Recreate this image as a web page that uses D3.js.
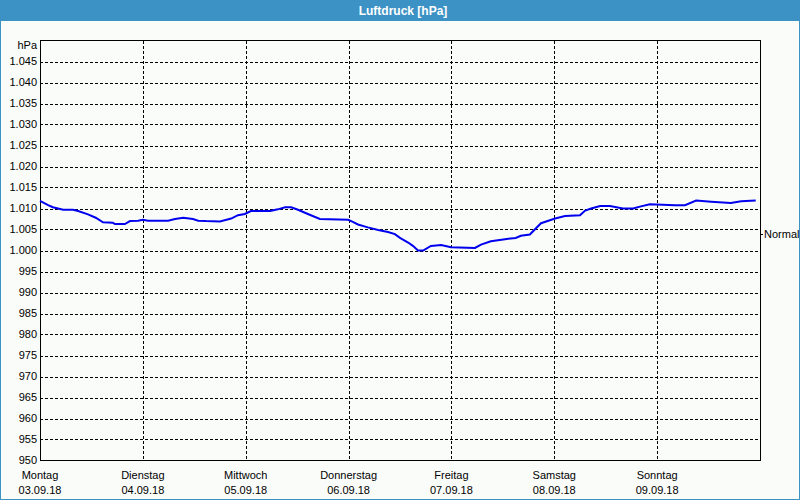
<!DOCTYPE html>
<html><head><meta charset="utf-8">
<script src="https://cdn.jsdelivr.net/npm/d3@7"></script>
<style>
html,body{margin:0;padding:0;background:#fff;}
svg{display:block;}
</style></head>
<body>
<script>
const title = "Luftdruck [hPa]";
const dayNames = ["Montag","Dienstag","Mittwoch","Donnerstag","Freitag","Samstag","Sonntag"];
const dayDates = ["03.09.18","04.09.18","05.09.18","06.09.18","07.09.18","08.09.18","09.09.18"];
const yTicks = [950,955,960,965,970,975,980,985,990,995,1000,1005,1010,1015,1020,1025,1030,1035,1040,1045];
const normalValue = 1004.0;
// hour since Monday 00:00 and pressure reading (hPa)
const hours = [0,1.9,3,5.4,7.7,8.9,11.2,13,14.7,17,17.5,19.8,21,22.9,24,25.2,29.9,31.5,33.4,35.7,36.9,38.7,42,44.6,46.2,47.8,49.2,53.7,55.5,57.2,58.6,60.2,62.5,65.3,71.9,73,74.2,76.5,78.9,81.2,82.8,84,85.9,87,88.2,89.4,91.2,93.6,95.9,101.5,102.9,105.2,108.5,111,112.2,114.3,116.9,120.2,122.5,126,127.2,128.6,130.7,133,136,138.4,140.2,142.3,148.2,150.5,153.1,156.6,161.2,163.6,167];
const pressure = [1011.8,1010.8,1010.3,1009.7,1009.7,1009.4,1008.6,1007.8,1006.7,1006.6,1006.3,1006.3,1007.0,1007.1,1007.3,1007.1,1007.1,1007.5,1007.8,1007.5,1007.1,1007.0,1006.9,1007.6,1008.4,1008.7,1009.4,1009.4,1009.8,1010.3,1010.3,1009.7,1008.7,1007.5,1007.3,1006.8,1006.2,1005.5,1004.9,1004.4,1003.9,1003.0,1001.9,1001.1,1000.0,1000.0,1001.1,1001.3,1000.8,1000.6,1001.4,1002.2,1002.7,1003.0,1003.5,1003.8,1006.5,1007.6,1008.2,1008.4,1009.5,1010.0,1010.6,1010.6,1010.0,1010.0,1010.5,1011.0,1010.8,1010.8,1011.9,1011.6,1011.3,1011.7,1011.9];

const W = 800, H = 500;
const L = 40, R = 760, T = 40.5, B = 460.5;
const svg = d3.select("body").append("svg").attr("width", W).attr("height", H)
  .style("font-family", "'Liberation Sans', Arial, sans-serif");

svg.append("rect").attr("x",0).attr("y",0).attr("width",W).attr("height",H).attr("fill","#3c92c4");
svg.append("rect").attr("x",1).attr("y",21).attr("width",W-2).attr("height",H-22).attr("fill","#fafcfa");
svg.append("text").attr("x",403).attr("y",15).attr("text-anchor","middle")
  .attr("fill","#fff").attr("font-weight","bold").attr("font-size","12px").text(title);

const x = d3.scaleLinear().domain([0, 168]).range([L, R]);
const y = d3.scaleLinear().domain([950, 1050]).range([B, T]);

// horizontal grid
svg.append("g").selectAll("line").data(yTicks.filter(v => v > 950)).join("line")
  .attr("x1", L).attr("x2", R)
  .attr("y1", d => Math.round(y(d)) + 0.5).attr("y2", d => Math.round(y(d)) + 0.5)
  .attr("stroke","#000").attr("stroke-dasharray","3,2").attr("shape-rendering","crispEdges");
// vertical grid
const dayIdx = d3.range(dayNames.length);
svg.append("g").selectAll("line").data(dayIdx.filter(i => i > 0)).join("line")
  .attr("x1", d => Math.round(x(d*24)) + 0.5).attr("x2", d => Math.round(x(d*24)) + 0.5)
  .attr("y1", T).attr("y2", B)
  .attr("stroke","#000").attr("stroke-dasharray","3,2").attr("shape-rendering","crispEdges");

// frame
svg.append("rect").attr("x", L+0.5).attr("y", T).attr("width", R-L).attr("height", B-T)
  .attr("fill","none").attr("stroke","#000").attr("shape-rendering","crispEdges");

// y labels
svg.append("g").selectAll("text").data(yTicks).join("text")
  .attr("x", 37).attr("y", d => y(d)).attr("dy","0.35em").attr("text-anchor","end")
  .attr("font-size","11px").attr("fill","#000")
  .text(d => d >= 1000 ? d3.format(",")(d).replace(",", ".") : String(d));
svg.append("text").attr("x",37).attr("y",45).attr("dy","0.35em").attr("text-anchor","end")
  .attr("font-size","11px").attr("fill","#000").text("hPa");

// x labels
const xl = svg.append("g").selectAll("g").data(dayIdx).join("g");
xl.append("text").attr("x", d => x(d*24)).attr("y", 479).attr("text-anchor","middle")
  .attr("font-size","11px").attr("fill","#000").text(d => dayNames[d]);
xl.append("text").attr("x", d => x(d*24)).attr("y", 494).attr("text-anchor","middle")
  .attr("font-size","11px").attr("fill","#000").text(d => dayDates[d]);

// normal marker
svg.append("line").attr("x1", R).attr("x2", R+3)
  .attr("y1", Math.round(y(normalValue))+0.5).attr("y2", Math.round(y(normalValue))+0.5)
  .attr("stroke","#000").attr("shape-rendering","crispEdges");
svg.append("text").attr("x", R+4).attr("y", y(normalValue)).attr("dy","0.35em")
  .attr("font-size","11px").attr("fill","#000").text("Normal");

// line
const pts = hours.map((h,i) => [h, pressure[i]]);
svg.append("path").datum(pts)
  .attr("d", d3.line().x(d => x(d[0])).y(d => y(d[1])))
  .attr("fill","none").attr("stroke","#0000ee").attr("stroke-width",2);
</script>
</body></html>
